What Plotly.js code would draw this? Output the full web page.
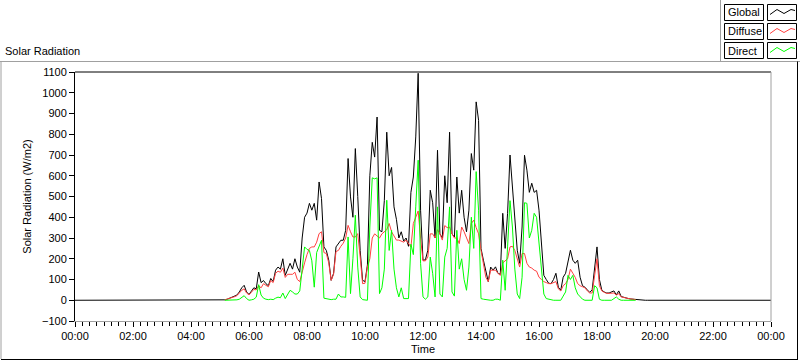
<!DOCTYPE html>
<html>
<head>
<meta charset="utf-8">
<script src="https://cdn.plot.ly/plotly-3.0.1.min.js"></script>
<style>
  html, body { margin: 0; padding: 0; background: #ffffff; }
  #chart { width: 800px; height: 361px; }
</style>
</head>
<body>
<div id="chart"></div>
<script>
// Samples every 5 minutes starting 05:00 (index 0) to 19:45 (index 177)
const sampleStart = '05:00';
const sampleStepMinutes = 5;

const globalRad = [
  0, 0, 2, 5, 10, 14, 18, 25, 40, 60, 72, 40,
  28, 45, 60, 55, 136, 85, 95, 80, 70, 105, 90, 145,
  160, 150, 200, 120, 150, 178, 150, 200, 160, 135, 300, 400,
  420, 467, 434, 467, 386, 570, 490, 257, 240, 193, 96, 130,
  257, 275, 289, 289, 337, 683, 498, 400, 731, 500, 240, 96,
  90, 170, 600, 761, 690, 883, 337, 330, 480, 810, 600, 640,
  450, 390, 300, 330, 285, 300, 260, 520, 594, 787, 1094, 434,
  193, 195, 241, 530, 470, 300, 723, 320, 300, 600, 470, 810,
  320, 305, 594, 420, 530, 400, 330, 434, 707, 627, 956, 867,
  250, 193, 145, 90, 160, 145, 161, 130, 125, 419, 250, 419,
  700, 530, 386, 241, 178, 353, 699, 627, 520, 564, 520, 530,
  434, 250, 120, 100, 82, 80, 100, 130, 63, 48, 111, 130,
  183, 241, 193, 178, 193, 111, 70, 63, 50, 38, 50, 150,
  257, 100, 48, 40, 35, 35, 40, 45, 26, 45, 18, 14,
  10, 8, 6, 5, 3, 0, 0, 0, 0, 0
];

const diffuseRad = [
  null, null, 2, 5, 10, 13, 17, 22, 35, 48, 55, 35,
  26, 40, 52, 50, 70, 60, 80, 72, 65, 95, 85, 130,
  140, 135, 155, 110, 125, 125, 125, 135, 100, 90, 140, 180,
  220, 250, 257, 257, 280, 321, 330, 230, 225, 180, 96, 125,
  235, 240, 260, 275, 300, 361, 330, 305, 305, 321, 208, 80,
  82, 160, 200, 300, 320, 310, 300, 320, 330, 340, 370, 330,
  310, 290, 290, 285, 280, 290, 270, 257, 370, 400, 430, 300,
  190, 190, 208, 320, 320, 300, 340, 320, 290, 360, 350, 353,
  320, 300, 300, 273, 353, 330, 300, 273, 370, 386, 350, 320,
  241, 178, 111, 90, 145, 145, 145, 130, 120, 180, 190, 200,
  257, 260, 240, 200, 160, 225, 225, 178, 160, 155, 145, 140,
  111, 100, 90, 85, 80, 80, 85, 90, 55, 45, 70, 80,
  100, 150, 130, 110, 80, 70, 65, 60, 45, 35, 35, 120,
  200, 70, 45, 38, 33, 33, 35, 35, 25, 32, 16, 13,
  10, 8, 6, 5, 3, null, null, null, null, null
];

const directRad = [
  null, null, 0, 0, 0, 1, 1, 2, 5, 15, 22, 8,
  0, 2, 5, 15, 75, 25, 10, 5, 3, 5, 3, 10,
  15, 12, 35, 8, 25, 48, 40, 30, 30, 45, 150, 257,
  245, 240, 190, 63, 230, 257, 289, 10, 8, 5, 3, 5,
  5, 30, 16, 16, 14, 305, 32, 200, 410, 160, 16, 3,
  0, 0, 353, 590, 585, 590, 32, 60, 150, 482, 240, 337,
  150, 60, 16, 60, 8, 8, 8, 270, 220, 450, 675, 178,
  16, 5, 16, 208, 130, 16, 450, 30, 16, 208, 250, 450,
  40, 20, 337, 150, 200, 100, 48, 160, 400, 250, 620, 434,
  8, 5, 3, 0, 0, 0, 5, 5, 0, 193, 48, 257,
  480, 353, 150, 30, 8, 111, 470, 467, 300, 337, 419, 400,
  273, 130, 30, 8, 5, 3, 0, 0, 0, 0, 20, 40,
  120, 100, 120, 60, 30, 16, 5, 0, 0, 0, 0, 70,
  60, 5, 0, 0, 0, 0, 0, 8, 16, 5, 0, 0,
  0, 0, 0, 0, 0, null, null, null, null, null
];

const seriesNames = ['Global', 'Diffuse', 'Direct'];
const seriesColors = ['#000000', '#ff4040', '#00ff00'];
const dayStart = '2000-01-01 00:00';
const dayEnd = '2000-01-02 00:00';

function pad(n) { return (n < 10 ? '0' : '') + n; }
const startMin = parseInt(sampleStart.slice(0, 2)) * 60 + parseInt(sampleStart.slice(3));
const times = globalRad.map((_, i) => {
  const m = startMin + i * sampleStepMinutes;
  return '2000-01-01 ' + pad(Math.floor(m / 60)) + ':' + pad(m % 60);
});

const FONT = 'Liberation Sans, Arial, sans-serif';

const traces = [
  { x: [dayStart].concat(times, [dayEnd]), y: [0].concat(globalRad, [0]),
    name: seriesNames[0], mode: 'lines', line: { color: seriesColors[0], width: 1 } },
  { x: times, y: diffuseRad, name: seriesNames[1], mode: 'lines',
    line: { color: seriesColors[1], width: 1 } },
  { x: times, y: directRad, name: seriesNames[2], mode: 'lines',
    line: { color: seriesColors[2], width: 1 } }
];

// pixel -> paper helpers (plot area: x 75..771, y 72..321)
const L = 75, R = 771, T = 72, B = 321;
const px = x => (x - L) / (R - L);
const py = y => (B - y) / (B - T);

const shapes = [
  { type: 'line', xref: 'paper', yref: 'paper', x0: 0, x1: 1, y0: 1, y1: 1, line: { color: '#000', width: 1 } },
  { type: 'line', xref: 'paper', yref: 'paper', x0: 1, x1: 1, y0: 0, y1: 1, line: { color: '#a0a0a0', width: 1 } },
  { type: 'line', xref: 'paper', yref: 'paper', x0: px(0), x1: px(800), y0: py(61.5), y1: py(61.5), line: { color: '#a0a0a0', width: 1 } },
  { type: 'line', xref: 'paper', yref: 'paper', x0: px(1), x1: px(1), y0: py(61.5), y1: py(359), line: { color: '#a0a0a0', width: 1 } },
  { type: 'line', xref: 'paper', yref: 'paper', x0: px(1), x1: px(798), y0: py(359.5), y1: py(359.5), line: { color: '#000', width: 1 } },
  { type: 'line', xref: 'paper', yref: 'paper', x0: px(797.5), x1: px(797.5), y0: py(61.5), y1: py(359.5), line: { color: '#000', width: 1 } },
  { type: 'line', xref: 'paper', yref: 'paper', x0: px(720.5), x1: px(720.5), y0: py(0), y1: py(61.5), line: { color: '#a0a0a0', width: 1 } }
];
const annotations = [];
const rowTops = [4.5, 23.5, 42.5];
seriesNames.forEach((name, k) => {
  const t = rowTops[k], b = t + 16;
  shapes.push({ type: 'rect', xref: 'paper', yref: 'paper', x0: px(724.5), x1: px(763.5), y0: py(b), y1: py(t), line: { color: '#000', width: 1 } });
  shapes.push({ type: 'rect', xref: 'paper', yref: 'paper', x0: px(767.5), x1: px(796.5), y0: py(b), y1: py(t), line: { color: '#000', width: 1 } });
  const pts = [[770, t + 10], [777, t + 5], [784, t + 9], [791, t + 5], [795, t + 6]];
  const path = pts.map((p, j) => (j ? 'L' : 'M') + px(p[0]) + ',' + py(p[1])).join(' ');
  shapes.push({ type: 'path', xref: 'paper', yref: 'paper', path: path, line: { color: seriesColors[k], width: 1 } });
  annotations.push({ xref: 'paper', yref: 'paper', x: px(726), y: py(t + 8), xanchor: 'left', yanchor: 'middle',
    text: name, showarrow: false, font: { family: FONT, size: 11, color: '#000' } });
});

const layout = {
  width: 800, height: 361,
  margin: { l: L, r: 800 - R, t: T, b: 361 - B, pad: 0 },
  paper_bgcolor: '#ffffff', plot_bgcolor: '#ffffff',
  showlegend: false,
  font: { family: FONT, size: 11, color: '#000' },
  title: { text: 'Solar Radiation', xref: 'container', yref: 'container', x: 5 / 800, xanchor: 'left',
           y: 1 - 51 / 361, yanchor: 'middle', font: { family: FONT, size: 11, color: '#000' } },
  xaxis: {
    type: 'date', range: [dayStart, dayEnd], tick0: dayStart, dtick: 7200000, tickformat: '%H:%M',
    ticks: 'outside', ticklen: 5, tickcolor: '#000', tickwidth: 1,
    showline: true, linecolor: '#a0a0a0', linewidth: 1, showgrid: false, zeroline: false,
    minor: { dtick: 900000, ticks: 'outside', ticklen: 4, tickcolor: '#000', showgrid: false },
    tickfont: { family: FONT, size: 11, color: '#000' },
    title: { text: 'Time', font: { family: FONT, size: 11, color: '#000' }, standoff: 4 }
  },
  yaxis: {
    range: [-100, 1100], tick0: 0, dtick: 100,
    ticks: 'outside', ticklen: 5, tickcolor: '#000', tickwidth: 1,
    showline: true, linecolor: '#000', linewidth: 1, showgrid: false, zeroline: false,
    tickfont: { family: FONT, size: 11, color: '#000' },
    title: { text: 'Solar Radiation (W/m2)', font: { family: FONT, size: 11, color: '#000' }, standoff: 8 }
  },
  shapes: shapes,
  annotations: annotations
};

Plotly.newPlot('chart', traces, layout, { displayModeBar: false, staticPlot: true });
</script>
</body>
</html>
